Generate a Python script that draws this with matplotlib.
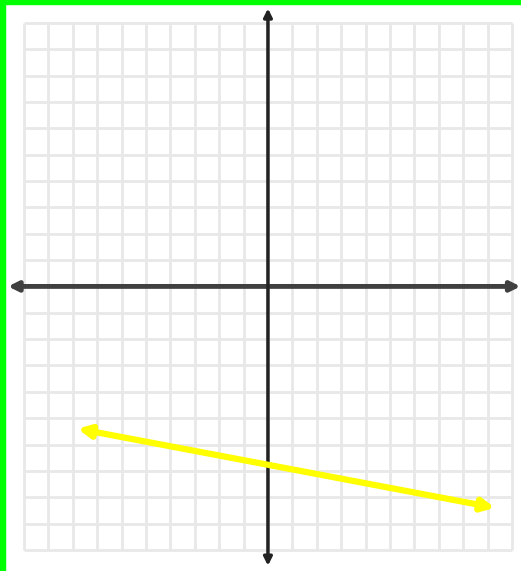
import matplotlib
matplotlib.use('Agg')
import matplotlib.pyplot as plt
from matplotlib.patches import Rectangle

# grid goes from -10 to 10 in both directions
grid_ticks = list(range(-10, 11))

# the yellow line (two arrow ends)
line_x = [-7.8, 9.3]
line_y = [-5.4, -8.4]

# axis arrow extents
x_axis_ends = [-10.65, 10.35]
y_axis_ends = [10.55, -10.6]

fig = plt.figure(figsize=(5.21, 5.71), dpi=100)
ax = fig.add_axes([0, 0, 1, 1])
ax.set_xlim(-10.98, 10.37)
ax.set_ylim(-10.80, 10.87)
ax.axis('off')

# light grid
for t in grid_ticks:
    ax.plot([t, t], [-10, 10], color='#e8e8e8', lw=2, zorder=1, solid_capstyle='butt')
    ax.plot([-10, 10], [t, t], color='#e8e8e8', lw=2, zorder=1, solid_capstyle='butt')

# main axes with arrows on both ends
ax.annotate('', xy=(x_axis_ends[1], 0), xytext=(x_axis_ends[0], 0),
            arrowprops=dict(arrowstyle='<|-|>', color='#404040', lw=3.5,
                            mutation_scale=14, shrinkA=0, shrinkB=0), zorder=3)
ax.annotate('', xy=(0, y_axis_ends[1]), xytext=(0, y_axis_ends[0]),
            arrowprops=dict(arrowstyle='<|-|>', color='#222222', lw=2.5,
                            mutation_scale=12, shrinkA=0, shrinkB=0), zorder=3)

# yellow line
ax.annotate('', xy=(line_x[1], line_y[1]), xytext=(line_x[0], line_y[0]),
            arrowprops=dict(arrowstyle='<|-|>', color='#ffff00', lw=4.5,
                            mutation_scale=18, shrinkA=0, shrinkB=0), zorder=4)

# green frame on left and top
fig.patches.append(Rectangle((0, 0), 5 / 521, 1, transform=fig.transFigure,
                             color='#00ff00', zorder=10))
fig.patches.append(Rectangle((0, 1 - 4 / 571), 1, 4 / 571, transform=fig.transFigure,
                             color='#00ff00', zorder=10))

fig.savefig('out.png', dpi=100)
